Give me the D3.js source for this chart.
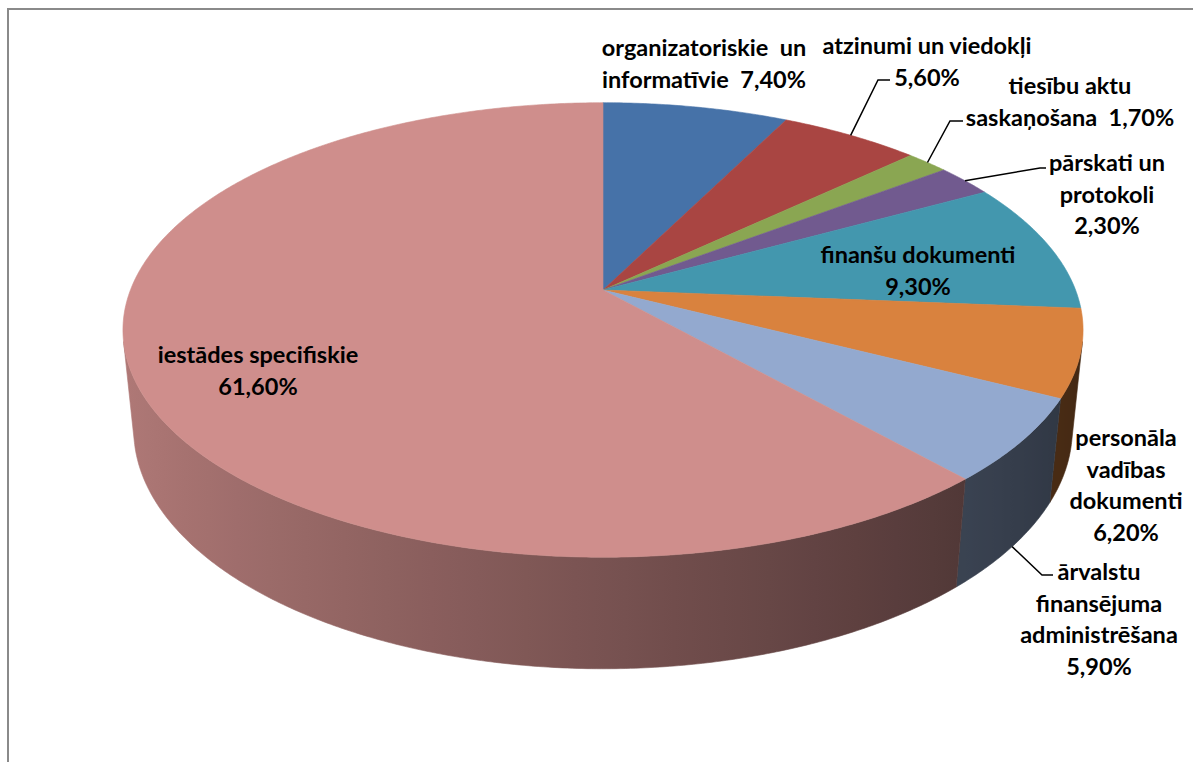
<!DOCTYPE html>
<html><head><meta charset="utf-8">
<script src="https://cdn.jsdelivr.net/npm/d3@7"></script>
<style>html,body{margin:0;padding:0;background:#fff;} svg{display:block}</style>
</head><body>
<svg id="chart" width="1193" height="762"></svg>
<script>
// ---------- data ----------
const categories = ["organizatoriskie un informatīvie","atzinumi un viedokļi","tiesību aktu saskaņošana","pārskati un protokoli","finanšu dokumenti","personāla vadības dokumenti","ārvalstu finansējuma administrēšana","iestādes specifiskie"];
const values = [7.4, 5.6, 1.7, 2.3, 9.3, 6.2, 5.9, 61.6];
const colors = ["#4672A8","#A94542","#8AA652","#715A8F","#4397AE","#D9823E","#93A9CF","#CF8E8C"];
const nameLines = [
  ["organizatoriskie  un","informatīvie"],
  ["atzinumi un viedokļi"],
  ["tiesību aktu","saskaņošana"],
  ["pārskati un","protokoli"],
  ["finanšu dokumenti"],
  ["personāla","vadības","dokumenti"],
  ["ārvalstu","finansējuma","administrēšana"],
  ["iestādes specifiskie"]
];
const valueSameLine = [true,false,true,false,false,false,false,false];

// ---------- layout ----------
const W = 1193, H = 762;
const svg = d3.select("#chart");
const defs = svg.append("defs");
const fontFamily = "Lato, 'Open Sans', sans-serif";
const fontSize = 23.5, lineH = 31.5;

// frame
svg.append("path").attr("d","M1193,9H8V762").attr("fill","none").attr("stroke","#8a8a8a").attr("stroke-width",2);

// perspective projection of a unit-radius pie lying in a plane
const X0 = 603, Y0 = 290;
const phi = Math.asin(0.466), cph = Math.cos(phi), sph = Math.sin(phi);
const Dist = 5.03, F = 2377, thick = 0.24;
function proj(a, r, z) { // a: angle clockwise from 12 o'clock (back)
  const x = r*Math.sin(a), y = r*Math.cos(a);
  const dy = y + Dist*cph, dz = z - Dist*sph;
  const zc = dy*cph - dz*sph;
  const yc = dy*sph + dz*cph;
  return [X0 + F*x/zc, Y0 - F*yc/zc];
}

const pie = d3.pie().value(d => d).sort(null);
const arcs = pie(values);
const fmt = v => d3.format(".2f")(v).replace(".", ",") + "%";

function arcPts(a0, a1, z) {
  const n = Math.max(2, Math.ceil(Math.abs(a1-a0)/(Math.PI/360)));
  const pts = [];
  for (let i = 0; i <= n; i++) pts.push(proj(a0 + (a1-a0)*i/n, 1, z));
  return pts;
}
const line = d3.line();

// visible side range
const cosLim = -1/(Dist*cph);
const visA0 = Math.acos(cosLim), visA1 = 2*Math.PI - visA0;

function shade(hex, k) {
  const c = d3.rgb(hex);
  return d3.rgb(c.r*k, c.g*k, c.b*k).formatHex();
}

const gSide = svg.append("g");
arcs.forEach((d, i) => {
  const a0 = Math.max(d.startAngle, visA0), a1 = Math.min(d.endAngle, visA1);
  if (a1 <= a0) return;
  const top = arcPts(a0, a1, 0), bot = arcPts(a1, a0, -thick);
  const xs = top.map(p => p[0]);
  const xmin = d3.min(xs), xmax = d3.max(xs);
  const gid = "side" + i;
  const grad = defs.append("linearGradient").attr("id", gid)
    .attr("gradientUnits","userSpaceOnUse")
    .attr("x1", xmin).attr("x2", xmax).attr("y1", 0).attr("y2", 0);
  const ns = 24, stops = [];
  for (let k = 0; k <= ns; k++) {
    const a = a0 + (a1-a0)*k/ns;
    const px = proj(a, 1, 0)[0];
    stops.push({off: (xmax - xmin) > 0 ? (px - xmin)/(xmax - xmin) : 0, col: shade(colors[i], 0.58 - 0.28*Math.sin(a))});
  }
  stops.sort((p, q) => p.off - q.off);
  stops.forEach(s => grad.append("stop").attr("offset", s.off).attr("stop-color", s.col));
  gSide.append("path").attr("d", line(top.concat(bot)) + "Z")
    .attr("fill", `url(#${gid})`).attr("stroke", `url(#${gid})`).attr("stroke-width", 0.6);
});

// top surface
const gTop = svg.append("g");
arcs.forEach((d, i) => {
  const pts = [proj(0, 0, 0)].concat(arcPts(d.startAngle, d.endAngle, 0));
  gTop.append("path").attr("d", line(pts) + "Z")
    .attr("fill", colors[i]).attr("stroke", colors[i]).attr("stroke-width", 0.6).attr("stroke-linejoin","round");
});

// labels
const labelPos = [
  {x: 704, y: 47},
  {x: 927, y: 45},
  {x: 1070, y: 85},
  {x: 1107, y: 162},
  {x: 918, y: 254},
  {x: 1126, y: 437},
  {x: 1099, y: 571},
  {x: 258, y: 354}
];
// leader lines: anchor z on rim, then elbow and end points
const leaders = {
  1: {z: 0, pts: [[878, 80], [890, 80]]},
  2: {z: 0, pts: [[950, 121], [963, 121]]},
  3: {z: 0, pts: [[1040, 168], [1046, 168]]},
  6: {z: -thick, pts: [[1042, 575], [1053, 575]]}
};
const gLab = svg.append("g");
arcs.forEach((d, i) => {
  if (leaders[i]) {
    const m = (d.startAngle + d.endAngle)/2;
    const p0 = proj(m, 1, leaders[i].z);
    gLab.append("path").attr("d", line([p0].concat(leaders[i].pts)))
      .attr("fill","none").attr("stroke","#000").attr("stroke-width",1.5);
  }
  const lines = nameLines[i].slice();
  if (valueSameLine[i]) lines[lines.length-1] += "  " + fmt(values[i]);
  else lines.push(fmt(values[i]));
  const t = gLab.append("text").attr("text-anchor","middle")
    .attr("font-family", fontFamily).attr("font-size", fontSize).attr("font-weight","bold").attr("fill","#000")
    .attr("dominant-baseline","central").style("white-space","pre");
  lines.forEach((l, k) => t.append("tspan").attr("x", labelPos[i].x).attr("y", labelPos[i].y + k*lineH).text(l));
});
</script>
</body></html>
